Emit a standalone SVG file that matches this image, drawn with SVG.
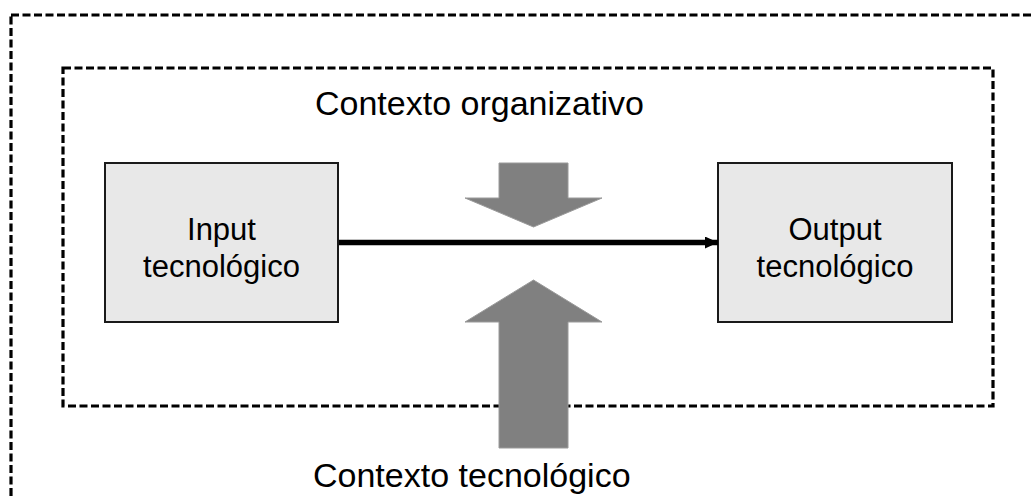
<svg xmlns="http://www.w3.org/2000/svg" width="1034" height="497" viewBox="0 0 1034 497">
<style>
.dash{fill:none;stroke:#000;stroke-width:3.2;stroke-dasharray:8 3.5}
.box{fill:#e8e8e8;stroke:#1a1a1a;stroke-width:2}
.fat{fill:#808080;stroke:#9a9a9a;stroke-width:1}
.lbl{font-family:"Liberation Sans",Arial,sans-serif;fill:#000}
.big{font-size:34px}
.mid{font-size:31px;text-anchor:middle}
</style>
<defs>
<marker id="ah" markerWidth="14" markerHeight="12" refX="13" refY="6" orient="auto" markerUnits="userSpaceOnUse">
<path d="M0,0 L13,6 L0,12 Z" fill="#000"/>
</marker>
</defs>
<rect width="1034" height="497" fill="#fff"/>
<g id="outer-context">
<rect class="dash" x="11" y="15" width="1040" height="500"/>
<text class="lbl big" x="313" y="487">Contexto tecnológico</text>
</g>
<g id="inner-context">
<rect class="dash" x="63" y="68" width="930" height="338"/>
<text class="lbl big" x="315" y="115">Contexto organizativo</text>
</g>
<g id="input">
<rect class="box" x="105" y="163" width="233" height="159"/>
<text class="lbl mid" x="221.5" y="240">Input</text>
<text class="lbl mid" x="221.5" y="277">tecnológico</text>
</g>
<g id="output">
<rect class="box" x="718" y="163" width="234" height="159"/>
<text class="lbl mid" x="835" y="240">Output</text>
<text class="lbl mid" x="835" y="277">tecnológico</text>
</g>
<g id="connectors">
<line x1="339" y1="242.5" x2="718" y2="242.5" stroke="#000" stroke-width="5.5" marker-end="url(#ah)"/>
<polygon id="down-arrow" class="fat" points="499,163 568,163 568,198 602,198 533.5,227 465,198 499,198"/>
<polygon id="up-arrow" class="fat" points="533.5,280 602,322 568,322 568,448 499,448 499,322 465,322"/>
</g>
</svg>
